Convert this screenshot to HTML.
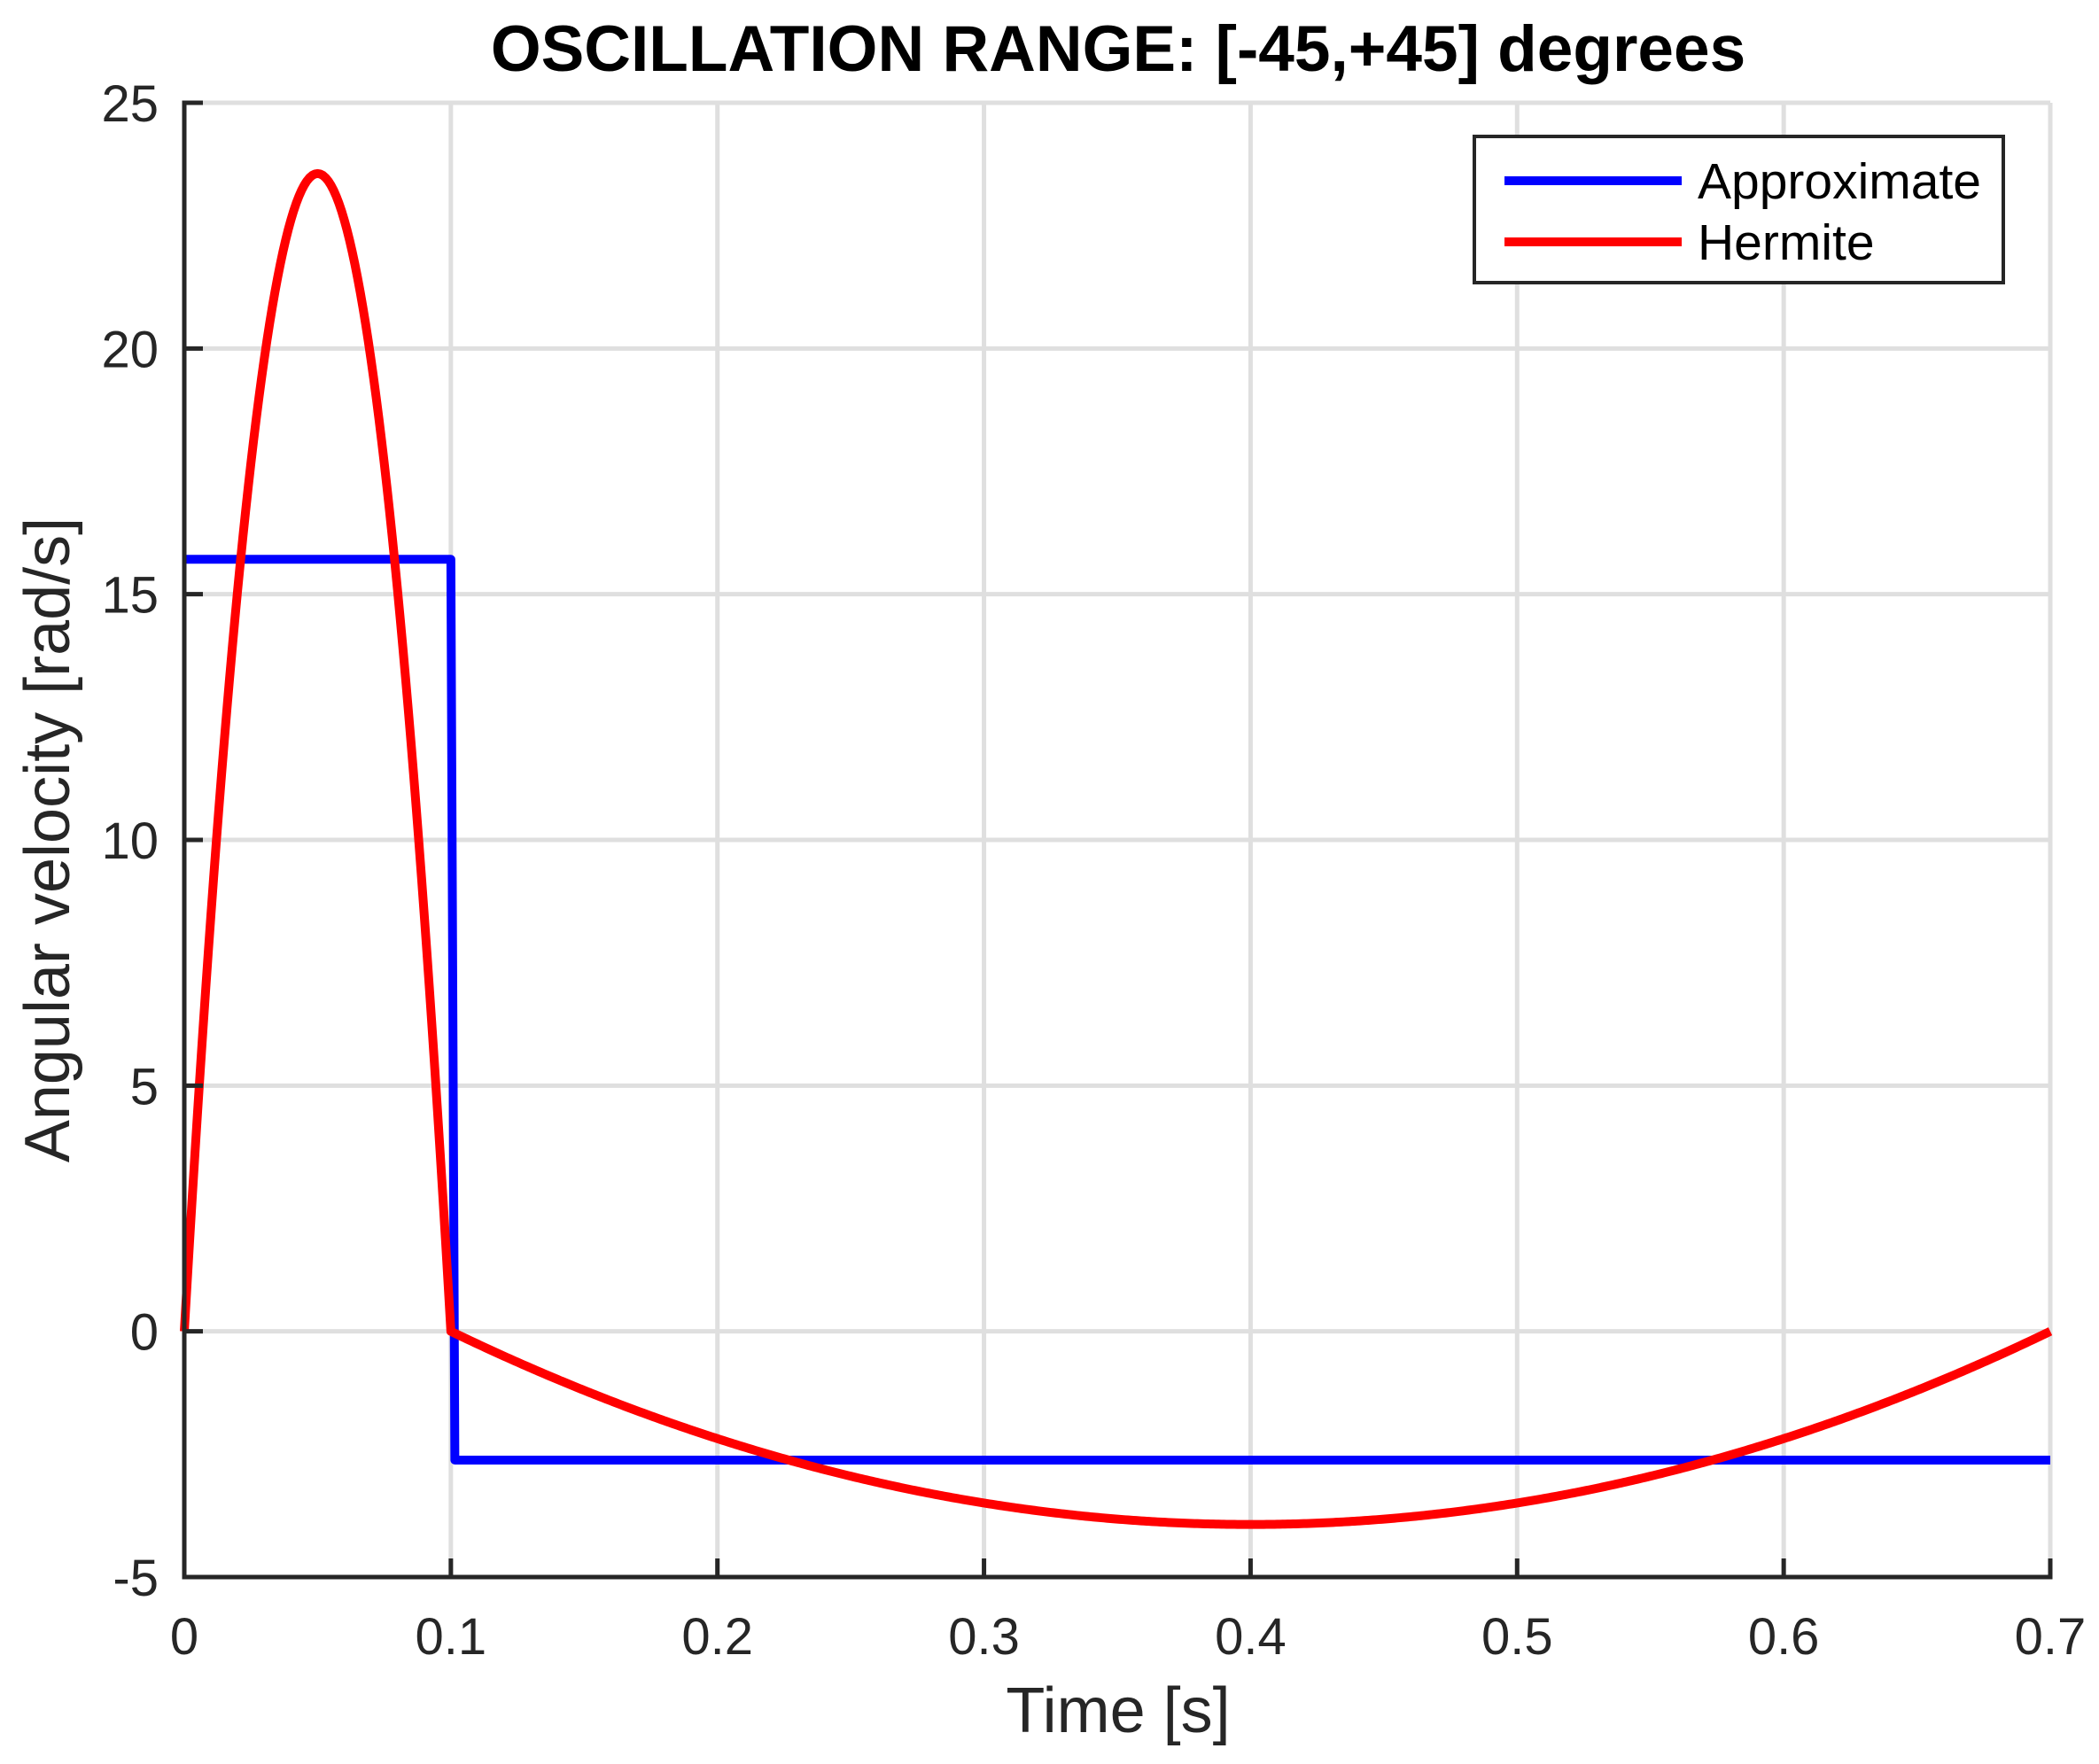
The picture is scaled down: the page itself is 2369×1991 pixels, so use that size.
<!DOCTYPE html>
<html><head><meta charset="utf-8"><style>
html,body{margin:0;padding:0;background:#fff;}
svg{display:block;}
text{font-family:"Liberation Sans",sans-serif;}
</style></head><body>
<svg id="s" width="2369" height="1991" viewBox="0 0 2369 1991" xmlns="http://www.w3.org/2000/svg">
<rect width="2369" height="1991" fill="#fff"/>
<g id="grid" stroke="#dfdfdf" stroke-width="5"></g>
<g id="series" fill="none" stroke-width="10" stroke-linejoin="round"></g>
<g id="axes" stroke="#262626" stroke-width="5" fill="none"></g>
<g id="labels" fill="#262626" font-size="58"></g>
<text x="1262" y="80" text-anchor="middle" font-size="73" font-weight="bold" fill="#000">OSCILLATION RANGE: [-45,+45] degrees</text>
<text x="1262" y="1955" text-anchor="middle" font-size="72" fill="#262626">Time [s]</text>
<text transform="translate(78,948) rotate(-90)" text-anchor="middle" font-size="72" fill="#262626">Angular velocity [rad/s]</text>
<rect x="1664" y="154" width="597" height="165" fill="#fff" stroke="#262626" stroke-width="4"/>
<line x1="1698" y1="204" x2="1898" y2="204" stroke="#0000ff" stroke-width="10"/>
<line x1="1698" y1="273" x2="1898" y2="273" stroke="#ff0000" stroke-width="10"/>
<text x="1916" y="224" font-size="57" fill="#000">Approximate</text>
<text x="1916" y="293" font-size="57" fill="#000">Hermite</text>
</svg>
<script>
var L=208,R=2314,T=116,B=1780;
function X(t){return L+t/0.7*(R-L);}
function Y(v){return B-(v+5)*(B-T)/30;}
var ns="http://www.w3.org/2000/svg";
function el(p,tag,a,txt){var e=document.createElementNS(ns,tag);for(var k in a)e.setAttribute(k,a[k]);if(txt!==undefined)e.textContent=txt;document.getElementById(p).appendChild(e);}
var lbl=["0","0.1","0.2","0.3","0.4","0.5","0.6","0.7"];
for(var i=0;i<=7;i++){var x=X(i*0.1);
 if(i>0&&i<7)el("grid","line",{x1:x,y1:T,x2:x,y2:B});
 el("axes","line",{x1:x,y1:B,x2:x,y2:B-21});
 el("labels","text",{x:x,y:1867,"text-anchor":"middle"},lbl[i]);}
for(var v=-5;v<=25;v+=5){var y=Y(v);
 if(v>-5&&v<25)el("grid","line",{x1:L,y1:y,x2:R,y2:y});
 el("axes","line",{x1:L,y1:y,x2:L+21,y2:y});
 el("labels","text",{x:L-29,y:y+21,"text-anchor":"end"},String(v));}
el("grid","line",{x1:L,y1:T,x2:R,y2:T});
el("grid","line",{x1:R,y1:T,x2:R,y2:B});
el("axes","line",{x1:L,y1:T-2.5,x2:L,y2:B+2.5});
el("axes","line",{x1:L-2.5,y1:B,x2:R+2.5,y2:B});
el("series","path",{stroke:"#0000ff",d:"M"+X(0)+","+Y(15.71)+"L"+X(0.1)+","+Y(15.71)+"L"+X(0.1015)+","+Y(-2.62)+"L"+X(0.7)+","+Y(-2.62)});
var d="";
for(var k=0;k<=700;k++){var t=k/1000,v2;
 if(t<=0.1){var s=t/0.1;v2=4*23.56*s*(1-s);}else{var s=(t-0.1)/0.6;v2=-3.93*4*s*(1-s);}
 d+=(k?"L":"M")+X(t).toFixed(2)+","+Y(v2).toFixed(2);}
el("series","path",{stroke:"#ff0000",d:d});
</script>
</body></html>
